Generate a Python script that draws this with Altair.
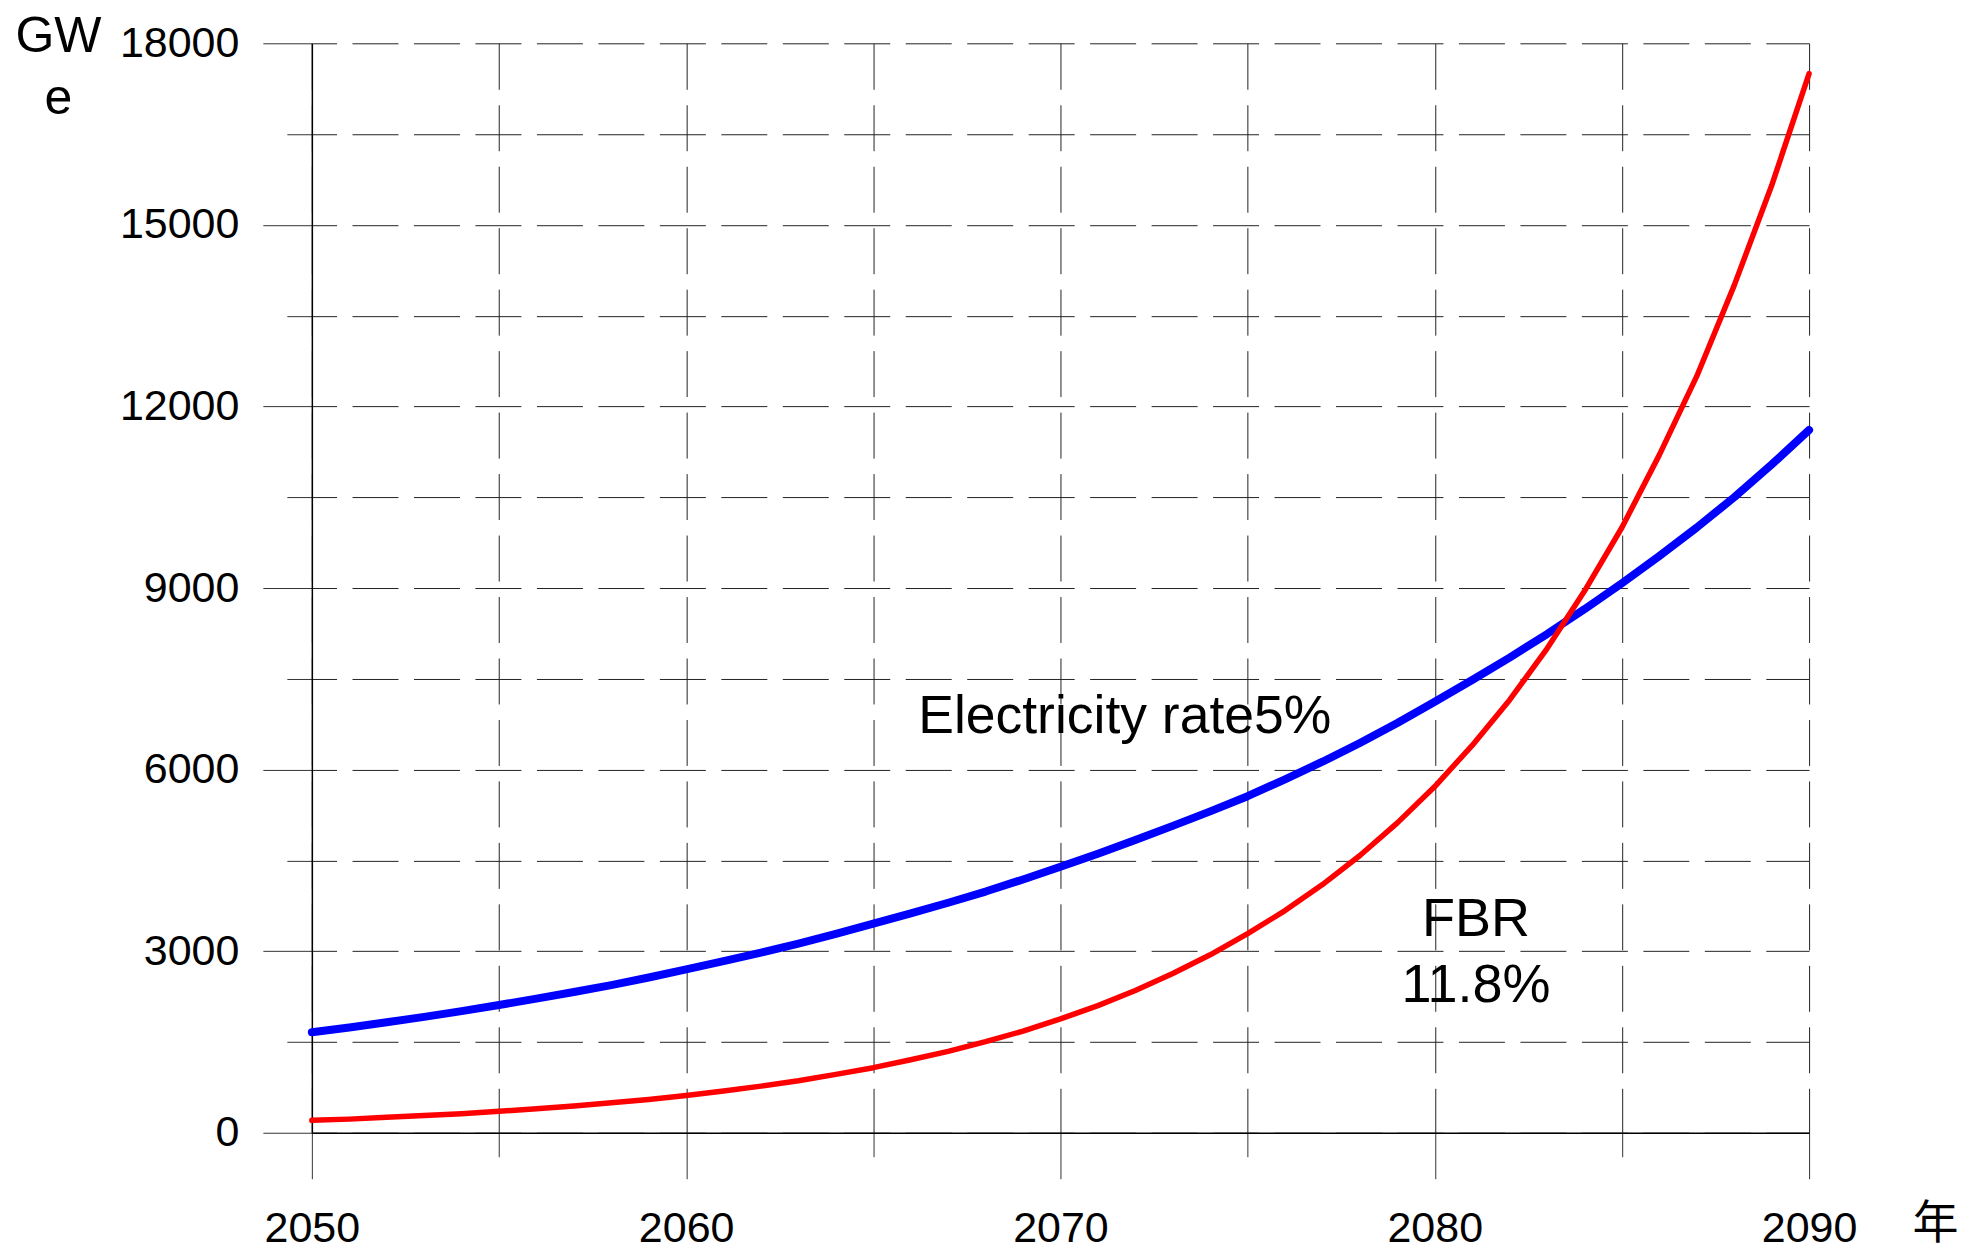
import altair as alt
import pandas as pd

# ---- data ----
years = list(range(2050, 2091))
electricity_5pct = [1660, 1740, 1825, 1915, 2010, 2110, 2215, 2325, 2440, 2565,
                    2700, 2835, 2975, 3125, 3285, 3455, 3625, 3800, 3985, 4185,
                    4395, 4610, 4835, 5070, 5310, 5560, 5840, 6130, 6440, 6770,
                    7120, 7480, 7850, 8240, 8650, 9080, 9530, 10000, 10500, 11040,
                    11610]
fbr_11_8pct = [205, 225, 255, 285, 315, 355, 395, 440, 495, 550,
               615, 690, 770, 860, 965, 1075, 1205, 1345, 1505, 1680,
               1880, 2100, 2350, 2630, 2940, 3290, 3670, 4100, 4580, 5120,
               5720, 6400, 7150, 8000, 8950, 10000, 11200, 12500, 14000, 15650,
               17500]

x_ticks = list(range(2050, 2091, 5))
y_ticks = list(range(0, 18001, 1500))

label_left_text = ["Electricity rate5%"]
label_left_x = [2066.2]
label_left_y = [6610]

label_center_text = ["FBR", "11.8%"]
label_center_x = [2081.1, 2081.1]
label_center_y = [3253, 2168]

df = pd.DataFrame({"year": years, "elec": electricity_5pct, "fbr": fbr_11_8pct})
lab_left = pd.DataFrame({"x": label_left_x, "y": label_left_y, "t": label_left_text})
lab_center = pd.DataFrame({"x": label_center_x, "y": label_center_y, "t": label_center_text})

FONT = "Liberation Sans, Arial, sans-serif"
GRID = "#222222"

xscale = alt.Scale(domain=[2050, 2090], nice=False, zero=False)
yscale = alt.Scale(domain=[0, 18000], nice=False)

xaxis = alt.Axis(
    values=x_ticks, format="d",
    labelExpr="datum.value % 10 === 0 ? datum.label : ''",
    tickSize={"condition": {"test": "datum.value % 10 === 0", "value": 46}, "value": 24},
    labelPadding=29, labelFlush=False, labelOverlap=False,
    labelFont=FONT, labelFontSize=43, labelColor="black",
    tickColor="#333333", tickWidth=1,
    domainColor="black", domainWidth=1.5,
    grid=True, gridColor=GRID, gridWidth=1, gridDash=[46, 15.5], gridDashOffset=0,
    title="年", titleFont="Noto Sans CJK JP", titleFontSize=46, titleFontWeight="normal",
    titleColor="black", titleX=1624, titleY=105, titleAlign="center",
    titleBaseline="alphabetic", titleAngle=0,
)

yaxis = alt.Axis(
    values=y_ticks, format="d",
    labelExpr="datum.value % 3000 === 0 ? datum.label : ''",
    tickSize={"condition": {"test": "datum.value % 3000 === 0", "value": 49}, "value": 25},
    labelPadding=24, labelOverlap=False, labelFlush=False,
    labelFont=FONT, labelFontSize=43, labelColor="black",
    tickColor="#333333", tickWidth=1,
    domainColor="black", domainWidth=1.5,
    grid=True, gridColor=GRID, gridWidth=1, gridDash=[46, 15.5], gridDashOffset=21.3,
    title=["GW", "e"], titleFont=FONT, titleFontSize=50, titleFontWeight="normal",
    titleColor="black", titleX=-254, titleY=8, titleAlign="center",
    titleBaseline="alphabetic", titleAngle=0, titleLineHeight=62,
)

base = alt.Chart(df)

blue = base.mark_line(color="#0000ff", strokeWidth=8, strokeCap="round", strokeJoin="round").encode(
    x=alt.X("year:Q", scale=xscale, axis=xaxis),
    y=alt.Y("elec:Q", scale=yscale, axis=yaxis),
)
red = base.mark_line(color="#ff0000", strokeWidth=5.5, strokeCap="round", strokeJoin="round").encode(
    x=alt.X("year:Q", scale=xscale, axis=xaxis),
    y=alt.Y("fbr:Q", scale=yscale, axis=yaxis),
)

txt_left = alt.Chart(lab_left).mark_text(
    align="left", baseline="alphabetic", font=FONT, fontSize=53.5, color="black"
).encode(
    x=alt.X("x:Q", scale=xscale, axis=xaxis),
    y=alt.Y("y:Q", scale=yscale, axis=yaxis),
    text="t:N",
)
txt_center = alt.Chart(lab_center).mark_text(
    align="center", baseline="alphabetic", font=FONT, fontSize=54, color="black"
).encode(
    x=alt.X("x:Q", scale=xscale, axis=xaxis),
    y=alt.Y("y:Q", scale=yscale, axis=yaxis),
    text="t:N",
)

chart = alt.layer(blue, red, txt_left, txt_center).properties(
    width=1498, height=1090,
    autosize=alt.AutoSizeParams(type="none"),
    padding={"left": 304, "top": 35, "right": 154, "bottom": 117},
    background="white",
).configure_view(stroke=None)

chart.save("out.html", embed_options={"renderer": "svg", "actions": False})
